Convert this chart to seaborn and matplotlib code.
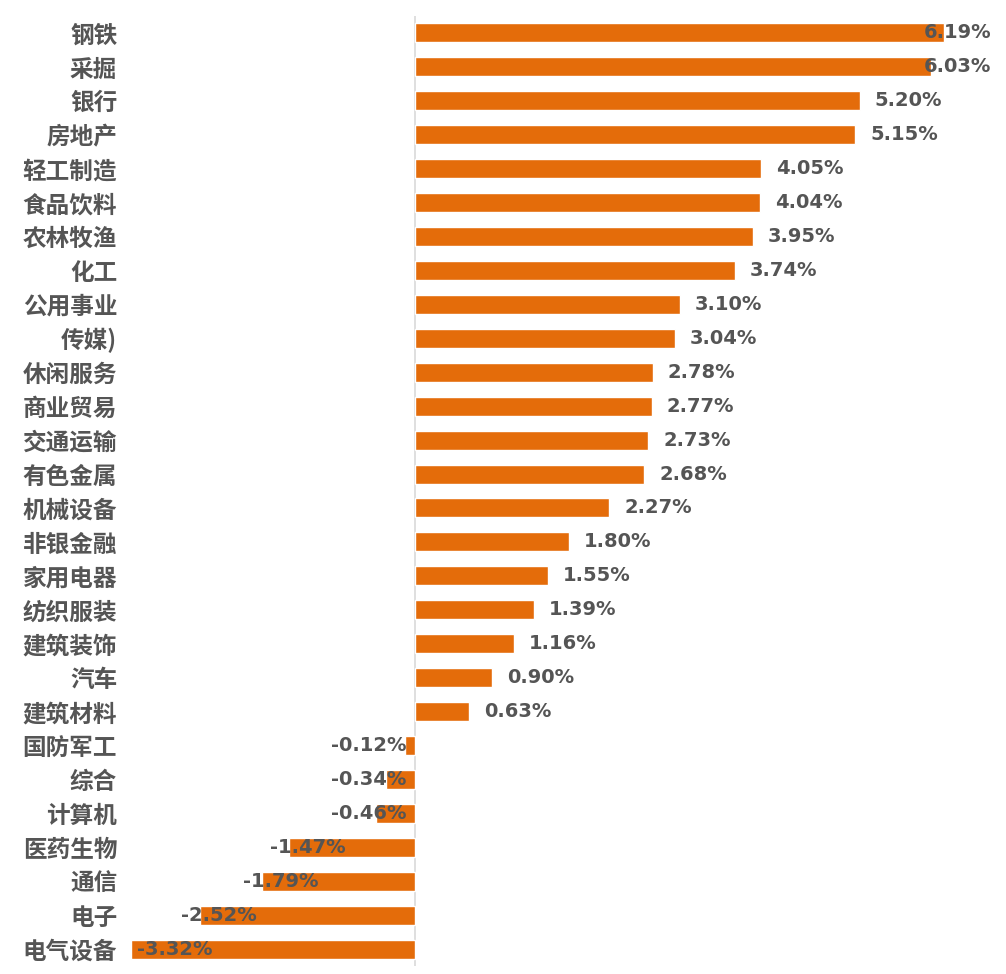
import matplotlib
matplotlib.use("Agg")
import matplotlib.pyplot as plt
import seaborn as sns
import pandas as pd

# 行业涨跌幅
industries = ['钢铁', '采掘', '银行', '房地产', '轻工制造', '食品饮料', '农林牧渔', '化工',
              '公用事业', '传媒)', '休闲服务', '商业贸易', '交通运输', '有色金属', '机械设备',
              '非银金融', '家用电器', '纺织服装', '建筑装饰', '汽车', '建筑材料', '国防军工',
              '综合', '计算机', '医药生物', '通信', '电子', '电气设备']
returns = [6.19, 6.03, 5.20, 5.15, 4.05, 4.04, 3.95, 3.74,
           3.10, 3.04, 2.78, 2.77, 2.73, 2.68, 2.27,
           1.80, 1.55, 1.39, 1.16, 0.90, 0.63, -0.12,
           -0.34, -0.46, -1.47, -1.79, -2.52, -3.32]

df = pd.DataFrame({'industry': industries, 'ret': returns})

sns.set_style('white')
plt.rcParams['font.family'] = ['Noto Sans CJK SC', 'DejaVu Sans']

bar_color = '#E46C0A'
txt_color = '#555555'

fig = plt.figure(figsize=(10.06, 9.74), dpi=100)
W, H = 1006, 974
x0_px, x1_px = 120, 1000
top_px, bot_px = 16, 966
ax = fig.add_axes([x0_px / W, 1 - bot_px / H, (x1_px - x0_px) / W, (bot_px - top_px) / H])

sns.barplot(data=df, x='ret', y='industry', orient='h', color=bar_color,
            saturation=1, width=0.56, ax=ax, zorder=2)

scale = 85.5  # px per 1%
ax.set_xlim((x0_px - 415) / scale, (x1_px - 415) / scale)
ax.set_ylim(len(industries) - 0.5, -0.5)
ax.axvline(0, color='#D9D9D9', lw=1.2, zorder=1)

for s in ax.spines.values():
    s.set_visible(False)
ax.set_xticks([])
ax.set_xlabel('')
ax.set_ylabel('')
ax.tick_params(axis='y', length=0, pad=2)
for lab in ax.get_yticklabels():
    lab.set_fontsize(17)
    lab.set_fontweight('bold')
    lab.set_color(txt_color)

lab_w = 74 / scale
xmin, xmax = ax.get_xlim()
for i, v in enumerate(returns):
    if v >= 0:
        left = min(v + 15 / scale, 5.95)
    else:
        left = v - 19 / scale
        left = max(left, xmin + 17 / scale)
        left = min(left, -10 / scale - lab_w)
    ax.text(left, i, f'{v:.2f}%', ha='left', va='center', fontsize=14,
            fontweight='bold', color=txt_color, family=['DejaVu Sans'],
            zorder=3, clip_on=False)

fig.savefig('out.png', dpi=100, facecolor='white')
